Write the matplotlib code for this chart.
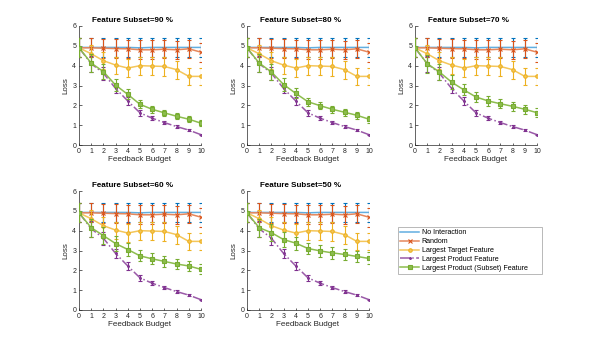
import matplotlib
matplotlib.use("Agg")
import matplotlib.pyplot as plt
from matplotlib.lines import Line2D
import numpy as np

plt.rcParams['font.family'] = ['Liberation Sans', 'DejaVu Sans']

budget = list(range(11))
subsets = ["90", "80", "70", "60", "50"]

no_interaction = [4.92, 4.92, 4.92, 4.92, 4.92, 4.90, 4.92, 4.92, 4.92, 4.92, 4.92]
no_interaction_err = [0.47, 0.47, 0.47, 0.47, 0.47, 0.47, 0.47, 0.47, 0.47, 0.47, 0.47]

random_sel = [4.90, 4.90, 4.88, 4.86, 4.85, 4.80, 4.80, 4.83, 4.80, 4.85, 4.68]
random_err = [0.47, 0.47, 0.47, 0.46, 0.46, 0.47, 0.47, 0.46, 0.46, 0.46, 0.47]

largest_target = [4.90, 4.60, 4.25, 4.03, 3.88, 4.00, 3.98, 3.96, 3.80, 3.46, 3.46]
largest_target_err = [0.47, 0.42, 0.42, 0.43, 0.45, 0.45, 0.47, 0.47, 0.45, 0.42, 0.42]

largest_product = [4.90, 4.10, 3.62, 2.85, 2.22, 1.62, 1.35, 1.13, 0.93, 0.75, 0.52]
largest_product_err = [0.47, 0.40, 0.33, 0.25, 0.20, 0.14, 0.10, 0.08, 0.06, 0.05, 0.04]

subset_feature = {
    "90": [4.90, 4.13, 3.70, 3.02, 2.55, 2.05, 1.80, 1.62, 1.45, 1.30, 1.10],
    "80": [4.90, 4.13, 3.68, 3.05, 2.60, 2.18, 1.98, 1.80, 1.65, 1.50, 1.30],
    "70": [4.90, 4.10, 3.68, 3.17, 2.78, 2.42, 2.22, 2.08, 1.95, 1.80, 1.63],
    "60": [4.90, 4.15, 3.75, 3.35, 3.05, 2.73, 2.58, 2.45, 2.32, 2.22, 2.05],
    "50": [4.90, 4.15, 3.90, 3.55, 3.37, 3.10, 2.98, 2.88, 2.80, 2.70, 2.60],
}
subset_feature_err = {
    "90": [0.47, 0.45, 0.38, 0.32, 0.25, 0.20, 0.17, 0.15, 0.15, 0.15, 0.15],
    "80": [0.47, 0.45, 0.38, 0.32, 0.25, 0.20, 0.18, 0.17, 0.17, 0.17, 0.17],
    "70": [0.47, 0.45, 0.40, 0.35, 0.28, 0.25, 0.23, 0.22, 0.22, 0.22, 0.22],
    "60": [0.47, 0.45, 0.42, 0.37, 0.32, 0.28, 0.27, 0.27, 0.27, 0.25, 0.25],
    "50": [0.47, 0.45, 0.42, 0.37, 0.33, 0.30, 0.30, 0.30, 0.30, 0.30, 0.30],
}

labels = ["No Interaction", "Random", "Largest Target Feature",
          "Largest Product Feature", "Largest Product (Subset) Feature"]
colors = ["#0072BD", "#D95319", "#EDB120", "#7E2F8E", "#77AC30"]
line_colors = ["#62AEE0", "#E6875C", "#F4C65A", "#9A5AA8", "#8DBD4E"]
markers = [None, "x", "o", ".", "s"]
styles = ["-", "-", "-", "-.", "-"]

fig = plt.figure(figsize=(5.98, 3.48), dpi=100)
W, H = 598, 348
positions = [(79, 26), (247, 26), (415, 26), (79, 191), (247, 191)]
aw, ah = 122, 119

for i, s in enumerate(subsets):
    px, py = positions[i]
    ax = fig.add_axes([px / W, 1 - (py + ah) / H, aw / W, ah / H])
    series = [(no_interaction, no_interaction_err), (random_sel, random_err),
              (largest_target, largest_target_err),
              (largest_product, largest_product_err),
              (subset_feature[s], subset_feature_err[s])]
    for k, (vals, errs) in enumerate(series):
        eb = ax.errorbar(budget, vals, yerr=errs, color=line_colors[k],
                         ecolor=colors[k], elinewidth=0.8, capsize=1.3,
                         capthick=0.8, linestyle=styles[k], linewidth=1.1,
                         marker=markers[k], markersize=2.5,
                         markeredgewidth=0.8, markeredgecolor=colors[k],
                         markerfacecolor=line_colors[k], zorder=2 + k)
        for bar in eb[2]:
            bar.set_linestyle("-")
        for cap in eb[1]:
            cap.set_color(line_colors[k])
    ax.set_xlim(0, 10)
    ax.set_ylim(0, 6)
    ax.set_xticks(budget)
    ax.set_yticks(range(7))
    ax.tick_params(direction="in", length=1.8, width=0.5, labelsize=5,
                   colors="#262626", pad=2)
    for sp in ["top", "right"]:
        ax.spines[sp].set_visible(False)
    for sp in ["left", "bottom"]:
        ax.spines[sp].set_color("#262626")
        ax.spines[sp].set_linewidth(0.5)
    ax.set_title("Feature Subset=%s %%" % s, fontsize=5.8, fontweight="bold",
                 pad=3, color="black", x=0.44)
    ax.set_xlabel("Feedback Budget", fontsize=5.8, color="#262626", labelpad=1)
    ax.set_ylabel("Loss", fontsize=5.8, color="#262626", labelpad=2)

handles = [Line2D([], [], color=line_colors[k], linestyle=styles[k], linewidth=1.1,
                  marker=markers[k], markersize=2.5, markeredgewidth=0.8,
                  markeredgecolor=colors[k], markerfacecolor=line_colors[k])
           for k in range(5)]
leg = fig.legend(handles, labels, loc="upper left",
                 bbox_to_anchor=(398 / W, 1 - 273 / H, 144 / W, 46 / H),
                 mode="expand", fontsize=5.1,
                 frameon=True, fancybox=False, borderpad=0.35,
                 labelspacing=0.25, handlelength=2.6, handletextpad=0.4,
                 borderaxespad=0)
leg.get_frame().set_edgecolor("#999999")
leg.get_frame().set_linewidth(0.6)

fig.savefig("out.png", dpi=100)
